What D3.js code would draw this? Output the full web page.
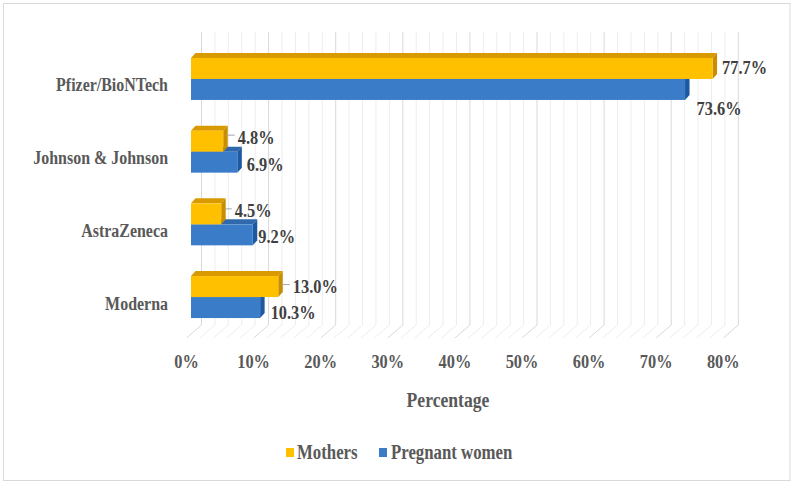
<!DOCTYPE html>
<html>
<head>
<meta charset="utf-8">
<script src="https://cdn.jsdelivr.net/npm/d3@7"></script>
<style>
  html, body { margin: 0; padding: 0; background: #fff; }
  svg { display: block; }
  text { font-family: "Liberation Serif", "Times New Roman", serif; font-weight: bold; }
</style>
</head>
<body>
<svg id="chart" width="795" height="492"></svg>
<script>
// ---- data ----
const categories = ["Pfizer/BioNTech", "Johnson & Johnson", "AstraZeneca", "Moderna"];
const seriesNames = ["Mothers", "Pregnant women"];
const mothers = [77.7, 4.8, 4.5, 13.0];
const pregnant = [73.6, 6.9, 9.2, 10.3];
const tickValues = [0, 10, 20, 30, 40, 50, 60, 70, 80];
const tickLabels = ["0%", "10%", "20%", "30%", "40%", "50%", "60%", "70%", "80%"];
const gridValues = d3.range(0, 81, 2);
const axisTitle = "Percentage";

// ---- style ----
const colors = {
  Mothers: { front: "#ffc000", top: "#d99a00", side: "#c98e00" },
  "Pregnant women": { front: "#3a7cc7", top: "#2f68ad", side: "#1d58a3" }
};
const labelNudge = {
  Mothers: { dx: [5, 10, 9, 10], dy: [-1, -4, -3, 0], leader: [false, true, true, true] },
  "Pregnant women": { dx: [7, 5, 1, 6], dy: [19, 2, 2, 5], leader: [false, false, false, false] }
};
const SX = 0.84; // horizontal squeeze of the reference lettering

const svg = d3.select("#chart");

// helper: squeezed text
function sText(g, x, yy, str, size, fill, anchor) {
  return g.append("text")
    .attr("transform", `translate(${x},${yy}) scale(${SX},1)`)
    .attr("text-anchor", anchor || "start")
    .attr("dominant-baseline", "central")
    .attr("font-size", size)
    .attr("fill", fill)
    .text(str);
}

// outer border
svg.append("rect").attr("x", 3.5).attr("y", 3.5).attr("width", 786.5).attr("height", 477)
  .attr("fill", "#fff").attr("stroke", "#d9d9d9").attr("stroke-width", 1);

// scales
const wallTop = 32, wallBottom = 325, floorFront = 338;
const xWall = d3.scaleLinear().domain([0, 80]).range([201.5, 738.3]);
const xFloor = d3.scaleLinear().domain([0, 80]).range([186.5, 723.3]);
const xBar = d3.scaleLinear().domain([0, 80]).range([191, 728]);
const y = d3.scaleBand().domain(categories).range([42.6, 333.4]);
const barH = 21;
const yInner = d3.scaleBand().domain(seriesNames)
  .range([y.bandwidth() / 2 - barH, y.bandwidth() / 2 + barH]);
const depthX = 4.5, depthY = 5;

// gridlines (back wall + floor)
const grid = svg.append("g");
gridValues.forEach(v => {
  const major = v % 10 === 0;
  grid.append("path")
    .attr("d", `M${xWall(v)},${wallTop} L${xWall(v)},${wallBottom} L${xFloor(v)},${floorFront}`)
    .attr("fill", "none")
    .attr("stroke", major ? "#d9d9d9" : "#ededed")
    .attr("stroke-width", 1);
});

// bars
const series = [
  { name: "Pregnant women", values: pregnant },
  { name: "Mothers", values: mothers }
];
const barsG = svg.append("g");
series.forEach(s => {
  const c = colors[s.name];
  s.values.forEach((v, i) => {
    const x0 = xBar(0), x1 = xBar(v);
    const yT = y(categories[i]) + yInner(s.name);
    const yB = yT + yInner.bandwidth();
    barsG.append("path")
      .attr("d", `M${x0},${yT} L${x0 + depthX},${yT - depthY} L${x1 + depthX},${yT - depthY} L${x1},${yT} Z`)
      .attr("fill", c.top);
    barsG.append("path")
      .attr("d", `M${x1},${yT} L${x1 + depthX},${yT - depthY} L${x1 + depthX},${yB - depthY} L${x1},${yB} Z`)
      .attr("fill", c.side);
    barsG.append("rect")
      .attr("x", x0).attr("y", yT).attr("width", x1 - x0).attr("height", yB - yT)
      .attr("fill", c.front);
  });
});

// value labels
const labelsG = svg.append("g");
series.forEach(s => {
  const nud = labelNudge[s.name];
  s.values.forEach((v, i) => {
    const yT = y(categories[i]) + yInner(s.name);
    const yc = yT + yInner.bandwidth() / 2 + nud.dy[i];
    const xe = xBar(v) + depthX;
    const lx = xe + nud.dx[i];
    if (nud.leader[i]) {
      labelsG.append("path")
        .attr("d", `M${xe - 1},${yc - 2} L${lx - 3},${yc - 2}`)
        .attr("stroke", "#a6a6a6").attr("stroke-width", 1).attr("fill", "none");
    }
    sText(labelsG, lx, yc, v.toFixed(1) + "%", 19.5, "#404040");
  });
});

// category labels
const catG = svg.append("g");
categories.forEach(d => {
  sText(catG, 168, y(d) + y.bandwidth() / 2 + 6, d, 19, "#595959", "end");
});

// x tick labels
const tickG = svg.append("g");
tickValues.forEach((d, i) => {
  sText(tickG, xFloor(d), 362, tickLabels[i], 19.5, "#595959", "middle");
});

// axis title
sText(svg, 448, 400, axisTitle, 21, "#595959", "middle");

// legend
const legendItems = [
  { name: "Mothers", sx: 286, tx: 297 },
  { name: "Pregnant women", sx: 379, tx: 391 }
];
const lg = svg.append("g");
legendItems.forEach(it => {
  lg.append("rect").attr("x", it.sx).attr("y", 448).attr("width", 8).attr("height", 9)
    .attr("fill", colors[it.name].front);
  sText(lg, it.tx, 452.5, it.name, 20, "#595959");
});
</script>
</body>
</html>
